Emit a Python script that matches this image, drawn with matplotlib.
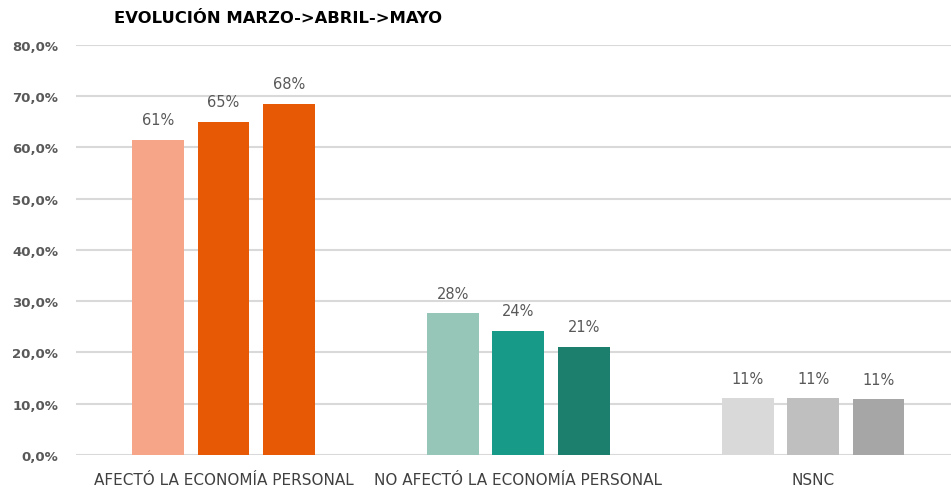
import matplotlib.pyplot as plt
import numpy as np

categories = ["AFECTÓ LA ECONOMÍA PERSONAL", "NO AFECTÓ LA ECONOMÍA PERSONAL", "NSNC"]
marzo = [61.5, 27.7, 11.1]
abril = [65.0, 24.2, 11.1]
mayo = [68.5, 21.1, 10.9]
labels_marzo = ["61%", "28%", "11%"]
labels_abril = ["65%", "24%", "11%"]
labels_mayo = ["68%", "21%", "11%"]
y_ticks = [0, 10, 20, 30, 40, 50, 60, 70, 80]

colors = [
    ["#F7A589", "#E85905", "#E85905"],
    ["#96C6B8", "#189A89", "#1C7F6E"],
    ["#D9D9D9", "#BFBFBF", "#A6A6A6"],
]

fig = plt.figure(figsize=(9.51, 4.89), dpi=100)
ax = fig.add_axes([0.080, 0.0675, 0.930, 0.8385])

x = np.arange(len(categories))
pitch = 0.222
width = 0.176
series = [(marzo, labels_marzo), (abril, labels_abril), (mayo, labels_mayo)]
for s, (vals, labs) in enumerate(series):
    pos = x + (s - 1) * pitch
    bars = ax.bar(pos, vals, width=width,
                  color=[colors[g][s] for g in range(len(categories))], zorder=3)
    ax.bar_label(bars, labels=labs, padding=9, fontsize=10.5, color="#595959")

ax.set_xlim(-0.5, 2.5)
ax.set_ylim(0, 80)
ax.set_yticks(y_ticks)
ax.set_yticklabels([f"{v:.1f}%".replace(".", ",") for v in y_ticks],
                   fontsize=9.5, fontweight="bold", color="#595959")
ax.set_xticks(x)
ax.set_xticklabels(categories, fontsize=11, color="#404040",
                   family="Liberation Sans Narrow")
ax.tick_params(length=0)
ax.tick_params(axis="y", pad=13)
ax.tick_params(axis="x", pad=12)
for sp in ax.spines.values():
    sp.set_visible(False)
ax.grid(axis="y", color="#D9D9D9", linewidth=1.5, zorder=0)

fig.text(0.120, 0.962, "EVOLUCIÓN MARZO->ABRIL->MAYO", fontsize=11.8,
         fontweight="bold", color="black", va="center")

plt.savefig("out.png", dpi=100)
